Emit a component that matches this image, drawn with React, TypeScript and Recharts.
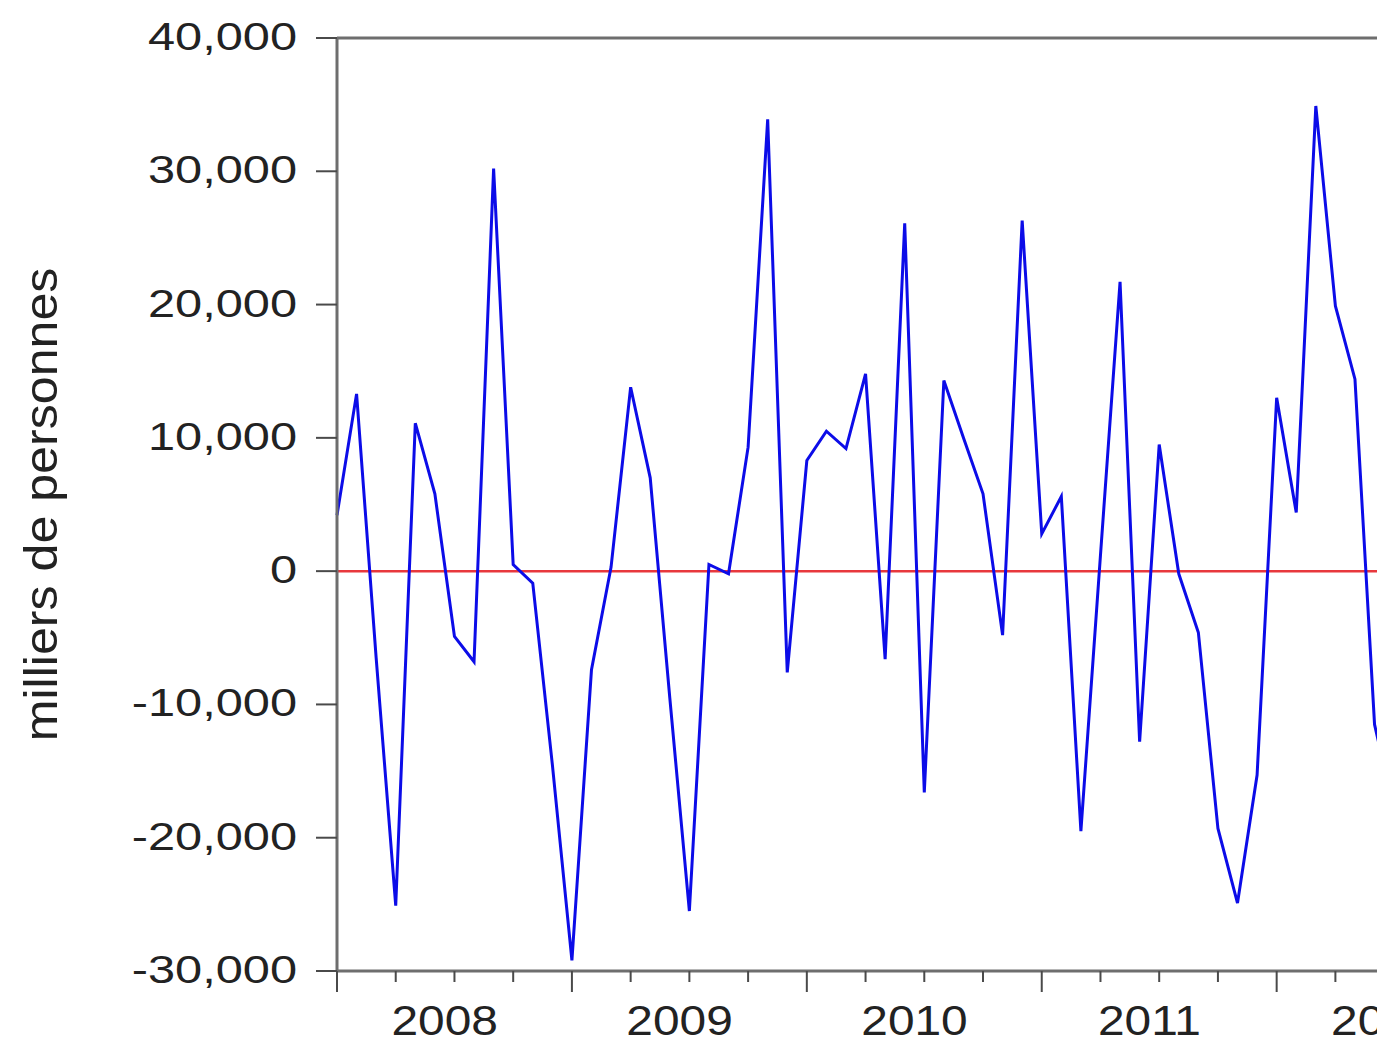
// @ts-nocheck
import { LineChart, Line, XAxis, YAxis, ReferenceLine } from 'recharts';

// monthly change, milliers de personnes, Jan 2008 onward
const values = [
  4200, 13300, -6500, -25100, 11100, 5800, -4900, -6800, 30200, 500, -900, -14500,
  -29200, -7400, 300, 13800, 7000, -9500, -25500, 500, -200, 9300, 33900, -7600,
  8300, 10500, 9200, 14800, -6600, 26100, -16600, 14300, 10000, 5800, -4800, 26300,
  2800, 5600, -19500, 1200, 21700, -12800, 9500, -200, -4600, -19300, -24900, -15300,
  13000, 4400, 34900, 19900, 14400, -11500, -18000,
];
const yearLabels = ['2008', '2009', '2010', '2011', '2012'];
const yTicks = [-30000, -20000, -10000, 0, 10000, 20000, 30000, 40000];
const yLabel = 'milliers de personnes';

const data = values.map((v, i) => ({ idx: i, value: v }));

// quarter marks plus year labels placed mid-year
const xTicks = [];
for (let m = 0; m < 60; m += 3) xTicks.push(m);
yearLabels.forEach((_, k) => xTicks.push(k * 12 + 5.5));
xTicks.sort((a, b) => a - b);

const FONT = '"Liberation Sans", Arial, Helvetica, sans-serif';
const FRAME = '#6e6e6e';
const TICK = '#4a4a4a';

function XTick({ x, y, payload }) {
  const v = payload.value;
  if (v % 3 === 0) {
    const len = v % 12 === 0 ? 21 : 11;
    return <line x1={x} x2={x} y1={y} y2={y + len} stroke={TICK} strokeWidth={2}/>;
  }
  const label = yearLabels[Math.floor(v / 12)];
  return (<g transform={`translate(${x},${y + 64}) scale(1.14,1)`}>
      <text x={0} y={0} textAnchor="middle" fontSize={42} fontFamily={FONT} fill="#222">
        {label}
      </text>
    </g>);
}

function YTick({ x, y, payload }) {
  const label = payload.value.toLocaleString('en-US');
  return (<g>
      <line x1={x - 21} x2={x} y1={y} y2={y} stroke={TICK} strokeWidth={2}/>
      <g transform={`translate(${x - 40},${y + 12}) scale(1.25,1)`}>
        <text x={0} y={0} textAnchor="end" fontSize={39} fontFamily={FONT} fill="#222">
          {label}
        </text>
      </g>
    </g>);
}

function YLabel({ viewBox }) {
  const cy = viewBox.y + viewBox.height / 2;
  return (<g transform={`translate(57,${cy}) rotate(-90) scale(1.09,1)`}>
      <text x={0} y={0} textAnchor="middle" fontSize={46} fontFamily={FONT} fill="#222">
        {yLabel}
      </text>
    </g>);
}

export default function App() {
  return (<div style={{
            position: 'fixed',
            left: 0,
            top: 0,
            width: 1377,
            height: 1041,
            overflow: 'hidden',
            background: '#fff',
        }}>
      <LineChart width={1512} height={1041} data={data} margin={{ top: 38, right: 20, bottom: 0, left: 0 }}>
        <XAxis dataKey="idx" type="number" domain={[0, 59]} ticks={xTicks} interval={0} height={70} tickSize={0} tickMargin={0} tickLine={false} axisLine={{ stroke: FRAME, strokeWidth: 3 }} tick={(p) => <XTick {...p}/>}/>
        <YAxis type="number" domain={[-30000, 40000]} ticks={yTicks} interval={0} width={337} tickSize={0} tickMargin={0} tickLine={false} axisLine={{ stroke: FRAME, strokeWidth: 3 }} tick={(p) => <YTick {...p}/>} label={{ content: (p) => <YLabel {...p}/> }}/>
        <ReferenceLine y={40000} stroke={FRAME} strokeWidth={3}/>
        <ReferenceLine y={0} stroke="#e8383d" strokeWidth={2.5}/>
        <Line type="linear" dataKey="value" stroke="#0c0ce8" strokeWidth={3} dot={false} isAnimationActive={false}/>
      </LineChart>
    </div>);
}
